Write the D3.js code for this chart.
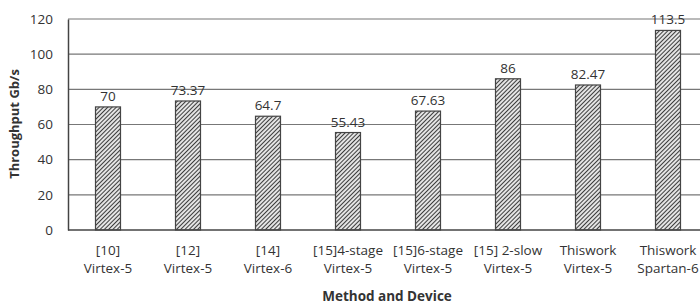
<!DOCTYPE html>
<html>
<head>
<meta charset="utf-8">
<script src="https://cdn.jsdelivr.net/npm/d3@7"></script>
<style>
  body { margin: 0; background: #fff; }
  svg text { font-family: "Open Sans", sans-serif; fill: #333; }
</style>
</head>
<body>
<div id="chart"></div>
<script>
// data
const methods = ["[10]", "[12]", "[14]", "[15]4-stage", "[15]6-stage", "[15] 2-slow", "Thiswork", "Thiswork"];
const devices = ["Virtex-5", "Virtex-5", "Virtex-6", "Virtex-5", "Virtex-5", "Virtex-5", "Virtex-5", "Spartan-6"];
const throughput = [70, 73.37, 64.7, 55.43, 67.63, 86, 82.47, 113.5];
const valueLabels = ["70", "73.37", "64.7", "55.43", "67.63", "86", "82.47", "113.5"];
const yTicks = [0, 20, 40, 60, 80, 100, 120];

const W = 700, H = 304;
const margin = { top: 19, right: -8, bottom: 74, left: 68 };
const width = W - margin.left - margin.right,
  height = H - margin.top - margin.bottom;

const svg = d3.select("#chart")
  .append("svg")
  .attr("width", W)
  .attr("height", H);

// hatch pattern for bars
const pat = svg.append("defs").append("pattern")
  .attr("id", "hatch")
  .attr("patternUnits", "userSpaceOnUse")
  .attr("width", 3)
  .attr("height", 3)
  .attr("patternTransform", "rotate(45)");
pat.append("rect").attr("width", 3).attr("height", 3).attr("fill", "#e4e4e4");
pat.append("line")
  .attr("x1", 0).attr("y1", 0).attr("x2", 0).attr("y2", 3)
  .attr("stroke", "#2a2a2a").attr("stroke-width", 1.8);

const g = svg.append("g")
  .attr("transform", `translate(${margin.left},${margin.top})`);

const idx = d3.range(throughput.length);

const x = d3.scaleBand()
  .domain(idx)
  .range([0, width])
  .paddingInner(0.6875)
  .paddingOuter(0.34375);

const y = d3.scaleLinear()
  .domain([0, 120])
  .range([height, 0]);

// gridlines
g.append("g")
  .selectAll("line")
  .data(yTicks.filter(d => d > 0))
  .enter()
  .append("line")
  .attr("x1", 0).attr("x2", width)
  .attr("y1", d => y(d)).attr("y2", d => y(d))
  .attr("stroke", "#777")
  .attr("stroke-width", 1.2);

// y axis
const yAxis = g.append("g")
  .call(d3.axisLeft(y).tickValues(yTicks).tickSize(0).tickPadding(15));
yAxis.select(".domain").attr("stroke", "#444").attr("stroke-width", 1.5);
yAxis.selectAll("text").style("font-size", "13.5px").attr("fill", "#333");

// bars
g.selectAll(".bar")
  .data(idx)
  .enter()
  .append("rect")
  .attr("class", "bar")
  .attr("x", i => x(i))
  .attr("y", i => y(throughput[i]))
  .attr("width", x.bandwidth())
  .attr("height", i => height - y(throughput[i]))
  .attr("fill", "url(#hatch)")
  .attr("stroke", "#444")
  .attr("stroke-width", 1.2);

// x axis line
g.append("line")
  .attr("x1", 0).attr("x2", width)
  .attr("y1", height).attr("y2", height)
  .attr("stroke", "#444")
  .attr("stroke-width", 1.5);

// value labels
g.selectAll(".val")
  .data(idx)
  .enter()
  .append("text")
  .attr("class", "val")
  .attr("x", i => x(i) + x.bandwidth() / 2)
  .attr("y", i => y(throughput[i]) - 6)
  .attr("text-anchor", "middle")
  .style("font-size", "13.5px")
  .text(i => valueLabels[i]);

// category labels
const cat = g.selectAll(".cat")
  .data(idx)
  .enter()
  .append("text")
  .attr("class", "cat")
  .attr("text-anchor", "middle")
  .style("font-size", "13.5px");
cat.append("tspan")
  .attr("x", i => x(i) + x.bandwidth() / 2)
  .attr("y", height + 25)
  .text(i => methods[i]);
cat.append("tspan")
  .attr("x", i => x(i) + x.bandwidth() / 2)
  .attr("y", height + 43)
  .text(i => devices[i]);

// axis titles
svg.append("text")
  .attr("x", 387)
  .attr("y", 301)
  .attr("text-anchor", "middle")
  .style("font-size", "13.5px")
  .style("font-weight", "bold")
  .text("Method and Device");

svg.append("text")
  .attr("transform", "translate(19,124) rotate(-90)")
  .attr("text-anchor", "middle")
  .style("font-size", "13px")
  .style("font-weight", "bold")
  .text("Throughput Gb/s");
</script>
</body>
</html>
